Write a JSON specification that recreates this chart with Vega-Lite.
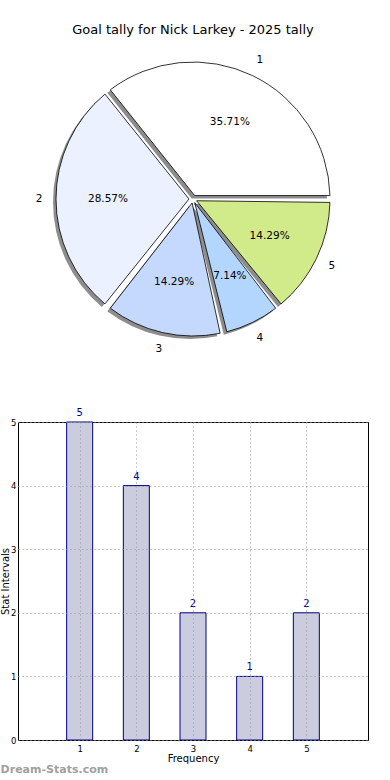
{
  "$schema": "https://vega.github.io/schema/vega-lite/v6.json",
  "padding": {"left": 0, "top": 24, "right": 0, "bottom": 0},
  "background": "white",
  "bounds": "flush",
  "spacing": 84,
  "config": {"font": "DejaVu Sans", "view": {"stroke": null}},
  "vconcat": [
    {
      "width": 350,
      "height": 278,
      "title": {"text": "Goal tally for Nick Larkey - 2025 tally", "fontSize": 13, "fontWeight": "normal", "color": "black", "offset": 18, "anchor": "middle", "font": "DejaVu Sans"},
      "data": {"values": [
        {"cat": 1, "goals": 5},
        {"cat": 2, "goals": 4},
        {"cat": 3, "goals": 2},
        {"cat": 4, "goals": 1},
        {"cat": 5, "goals": 2}
      ]},
      "transform": [
        {"joinaggregate": [{"op": "sum", "field": "goals", "as": "total"}]},
        {"calculate": "format(100*datum.goals/datum.total, '.2f') + '%'", "as": "pct"}
      ],
      "encoding": {
        "theta": {"field": "goals", "type": "quantitative", "stack": true, "scale": {"range": [1.5708, 7.854]}},
        "order": {"field": "cat", "type": "quantitative", "sort": "descending"}
      },
      "layer": [
        {"mark": {"type": "arc", "outerRadius": 137, "innerRadius": 4, "padAngle": 0.05, "fill": "#707070", "opacity": 0.8, "xOffset": -3, "yOffset": 3}},
        {"mark": {"type": "arc", "outerRadius": 137, "innerRadius": 4, "padAngle": 0.05, "stroke": "black", "strokeWidth": 0.8},
         "encoding": {"color": {"field": "cat", "type": "nominal", "scale": {"domain": [1, 2, 3, 4, 5], "range": ["#ffffff", "#ebf1fe", "#c5d8fe", "#b3d6fe", "#d1eb8b"]}, "legend": null}}},
        {"mark": {"type": "text", "radius": 85, "fontSize": 10.5, "color": "black"}, "encoding": {"text": {"field": "pct"}}},
        {"mark": {"type": "text", "radius": 154, "fontSize": 10.5, "color": "black"}, "encoding": {"text": {"field": "cat"}}}
      ]
    },
    {
      "width": 350,
      "height": 318,
      "view": {"stroke": "black", "strokeWidth": 1},
      "title": {"text": "Dream-Stats.com", "orient": "bottom", "anchor": "start", "frame": "bounds", "fontSize": 11, "fontWeight": "bold", "color": "#a0a0a0", "offset": 0},
      "data": {"values": [
        {"interval": 1, "count": 5},
        {"interval": 2, "count": 4},
        {"interval": 3, "count": 2},
        {"interval": 4, "count": 1},
        {"interval": 5, "count": 2}
      ]},
      "encoding": {
        "x": {"field": "interval", "type": "quantitative", "scale": {"domain": [0, 6], "nice": false},
              "axis": {"values": [1, 2, 3, 4, 5], "title": "Frequency", "titleFontSize": 10, "titleFontWeight": "normal", "titleColor": "black", "titlePadding": 1, "labelFontSize": 8.5, "labelColor": "black", "labelPadding": 4, "ticks": false, "domain": false, "grid": true, "gridDash": [1, 3], "gridColor": "#999999", "zindex": 1}},
        "y": {"field": "count", "type": "quantitative", "scale": {"domain": [0, 5], "nice": false},
              "axis": {"values": [0, 1, 2, 3, 4, 5], "title": "Stat Intervals", "titleFontSize": 10, "titleFontWeight": "normal", "titleColor": "black", "titlePadding": 0, "labelFontSize": 8.5, "labelColor": "black", "labelPadding": 2, "ticks": false, "domain": false, "grid": true, "gridDash": [1, 3], "gridColor": "#999999", "zindex": 1}}
      },
      "layer": [
        {"mark": {"type": "bar", "width": 26, "fill": "#ccccdf", "stroke": "#00008b", "strokeWidth": 1}},
        {"mark": {"type": "text", "dy": -9, "fontSize": 10, "color": "#00008b"}, "encoding": {"text": {"field": "count"}}}
      ]
    }
  ]
}
